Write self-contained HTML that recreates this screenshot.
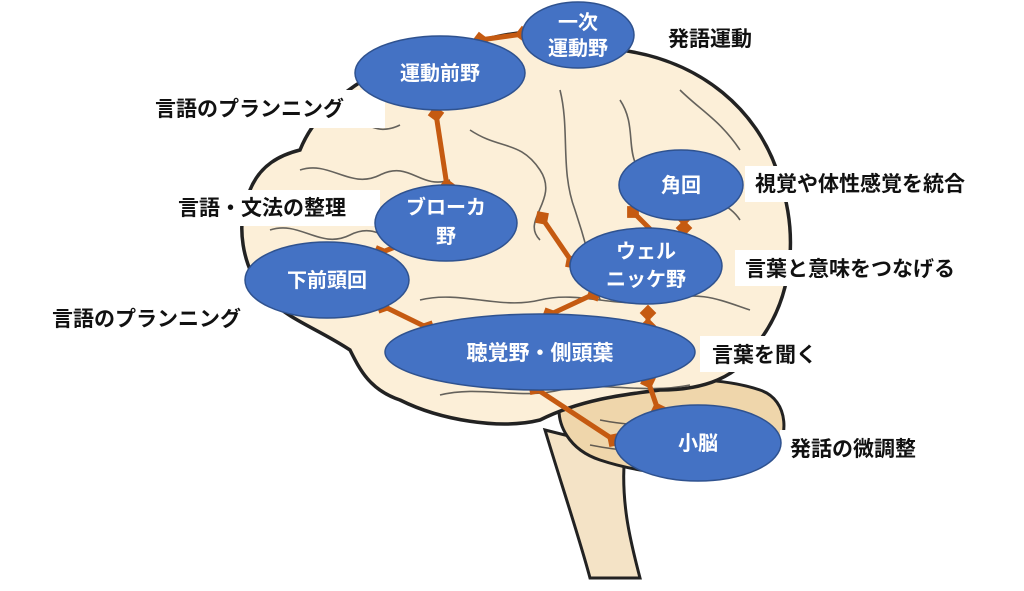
<!DOCTYPE html>
<html><head><meta charset="utf-8"><style>
body{margin:0;background:#fff;}
svg text{font-family:"Liberation Sans","Noto Sans CJK JP",sans-serif;}
</style></head><body>
<svg width="1024" height="586" viewBox="0 0 1024 586" xmlns="http://www.w3.org/2000/svg">
<defs>
<marker id="d" viewBox="-6 -6 12 12" markerWidth="4" markerHeight="4" refX="0" refY="0" orient="auto" markerUnits="strokeWidth">
<path d="M-5 0 L0 -5 L5 0 L0 5 Z" fill="#c55a11"/>
</marker>
</defs>
<!-- brainstem -->
<path d="M545 430 C560 480 580 540 590 578 L640 578 C630 540 620 500 625 450 Z" fill="#f4e3c6" stroke="#222" stroke-width="3"/>
<!-- cerebellum -->
<path d="M560 400 C600 380 700 370 760 390 C790 400 790 440 770 460 C740 480 660 480 600 460 C570 450 555 425 560 400 Z" fill="#efd6ab" stroke="#222" stroke-width="3"/>
<!-- cerebrum -->
<path d="M300 150 C320 100 380 60 440 55 C500 30 560 20 620 50 C700 60 760 110 780 180 C800 240 790 300 760 340 C740 380 700 390 660 390 C620 395 580 400 540 420 C500 430 440 420 400 400 C370 390 360 370 350 350 C320 330 290 320 270 300 C240 270 235 220 250 190 C260 165 280 155 300 150 Z" fill="#fcefd8" stroke="#222" stroke-width="3.5"/>
<g fill="none" stroke="#333" stroke-width="1.6" opacity="0.75">
<path d="M300 170 C330 160 350 190 380 175 C410 160 420 190 450 180"/>
<path d="M270 230 C300 220 320 250 350 235 C380 220 390 250 420 240"/>
<path d="M330 120 C360 110 370 140 400 125"/>
<path d="M560 90 C570 130 560 170 575 210 C585 240 590 260 600 300"/>
<path d="M620 100 C640 130 620 160 650 180 C680 200 720 190 740 220"/>
<path d="M470 130 C500 150 520 140 540 170 C560 200 520 220 540 240"/>
<path d="M680 90 C700 110 720 120 740 150"/>
<path d="M420 300 C460 290 500 310 540 300 C580 290 620 310 660 300 C700 290 720 300 750 310"/>
<path d="M440 395 C480 385 520 400 560 390 C600 380 640 395 690 385"/>
<path d="M600 420 C650 430 700 425 760 420"/>
<path d="M590 445 C640 455 700 455 760 445"/>
</g>
<!-- label backgrounds -->
<g fill="#fff">
<rect x="660" y="20" width="110" height="36"/>
<rect x="140" y="90" width="245" height="38"/>
<rect x="745" y="166" width="250" height="36"/>
<rect x="165" y="190" width="215" height="36"/>
<rect x="735" y="250" width="260" height="36"/>
<rect x="40" y="300" width="230" height="36"/>
<rect x="700" y="336" width="110" height="36"/>
<rect x="780" y="430" width="180" height="36"/>
</g>
<!-- connectors -->
<g stroke="#c55a11" stroke-width="5" fill="none" marker-start="url(#d)" marker-end="url(#d)">
<line x1="480" y1="40" x2="523" y2="34"/>
<line x1="436" y1="114" x2="447" y2="186"/>
<line x1="542" y1="218" x2="572" y2="262"/>
<line x1="633" y1="212" x2="655" y2="234"/>
<line x1="594" y1="294" x2="549" y2="315"/>
<line x1="648" y1="313" x2="648" y2="326"/>
<line x1="400" y1="245" x2="380" y2="253"/>
<line x1="383" y1="306" x2="428" y2="328"/>
<line x1="648" y1="381" x2="658" y2="410"/>
<line x1="535" y1="388" x2="614" y2="440"/>
<line x1="684" y1="218" x2="684" y2="228"/>
</g>
<!-- ellipses -->
<g fill="#4472c4" stroke="#2f528f" stroke-width="1.5">
<ellipse cx="578" cy="35" rx="56" ry="33"/>
<ellipse cx="440" cy="73" rx="85" ry="37"/>
<ellipse cx="446" cy="223" rx="71" ry="38"/>
<ellipse cx="681" cy="185" rx="62" ry="35"/>
<ellipse cx="646" cy="266" rx="76" ry="38"/>
<ellipse cx="327" cy="280" rx="82" ry="38"/>
<ellipse cx="540" cy="352" rx="155" ry="38"/>
<ellipse cx="698" cy="443" rx="83" ry="38"/>
</g>
<g fill="#fff" font-size="20" font-weight="bold" text-anchor="middle">
<text x="578" y="29">一次</text><text x="578" y="55">運動野</text>
<text x="440" y="80">運動前野</text>
<text x="446" y="214">ブローカ</text><text x="446" y="243">野</text>
<text x="681" y="192">角回</text>
<text x="646" y="258">ウェル</text><text x="646" y="286">ニッケ野</text>
<text x="327" y="287">下前頭回</text>
<text x="540" y="360" font-size="21">聴覚野・側頭葉</text>
<text x="698" y="450">小脳</text>
</g>
<g fill="#111" font-size="21" font-weight="600">
<text x="668" y="46">発語運動</text>
<text x="155" y="116">言語のプランニング</text>
<text x="755" y="191">視覚や体性感覚を統合</text>
<text x="178" y="215">言語・文法の整理</text>
<text x="745" y="276">言葉と意味をつなげる</text>
<text x="52" y="326">言語のプランニング</text>
<text x="712" y="362">言葉を聞く</text>
<text x="790" y="456">発話の微調整</text>
</g>
</svg>
</body></html>
